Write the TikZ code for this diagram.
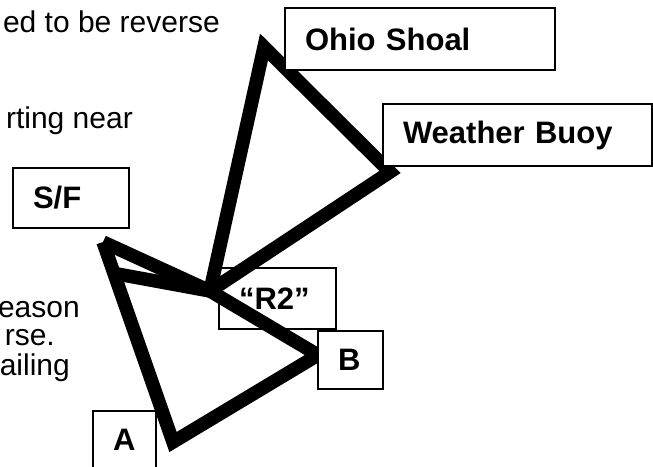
\documentclass[tikz,border=0pt]{standalone}
\usepackage{fontspec}
\setmainfont{Liberation Sans}
\tikzset{
	legline/.style={line width=13.5pt, line cap=butt, line join=miter},
	markbox/.style={draw, line width=1.2pt, fill=white, inner xsep=20pt, inner ysep=0pt, align=left, font=\fontsize{31}{35}\selectfont\bfseries},
	note/.style={inner sep=0pt, anchor=base east, font=\fontsize{30}{34}\selectfont}
}

\begin{document}
\begin{tikzpicture}[x=1pt, y=-1pt]
		%%%%% START %%%%%
		\useasboundingbox (0, 0) rectangle (653, 466);
		\clip (0, 0) rectangle (653, 466);
		
		\node[note] (txtA) at (220, 32) {ed to be reverse};
		\node[note] (txtB) at (133, 128) {rting near};
		\node[note] (txtC) at (80, 317) {eason};
		\node[note] (txtD) at (55, 345) {rse.};
		\node[note] (txtE) at (70, 375) {ailing};
		
		% turning marks
		\coordinate (ohio) at (264, 47);
		\coordinate (wb) at (390, 172);
		\coordinate (rtwo) at (210, 291);
		\coordinate (sf) at (103, 242);
		\coordinate (sfb) at (112, 273);
		\coordinate (markA) at (173, 442);
		\coordinate (markB) at (318, 355);
		
		\draw[legline] (rtwo) -- (ohio) -- (wb) -- (rtwo);
		\draw[legline] (sf) -- (rtwo);
		\draw[legline] (sfb) -- (rtwo);
		\draw[legline] (sf) -- (markA) -- (markB) -- (rtwo);
		
		\node[markbox, draw, fill=none, text width=77pt, minimum height=61pt] (boxRtwo) at (277.5, 298.5) {“R2”};
		\node[markbox, text width=230pt, minimum height=62pt] (boxOhio) at (420, 39) {Ohio Shoal};
		\node[markbox, text width=229pt, minimum height=62pt] (boxWb) at (517.5, 135) {Weather Buoy};
		\node[markbox, text width=76pt, minimum height=60pt] (boxSf) at (71, 198) {S/F};
		\node[markbox, text width=25pt, minimum height=58pt] (boxB) at (350.5, 360) {B};
		\node[markbox, text width=23pt, minimum height=58pt] (boxA) at (124.5, 440) {A};
		
		%%%%% END %%%%%
	\end{tikzpicture}
\end{document}
